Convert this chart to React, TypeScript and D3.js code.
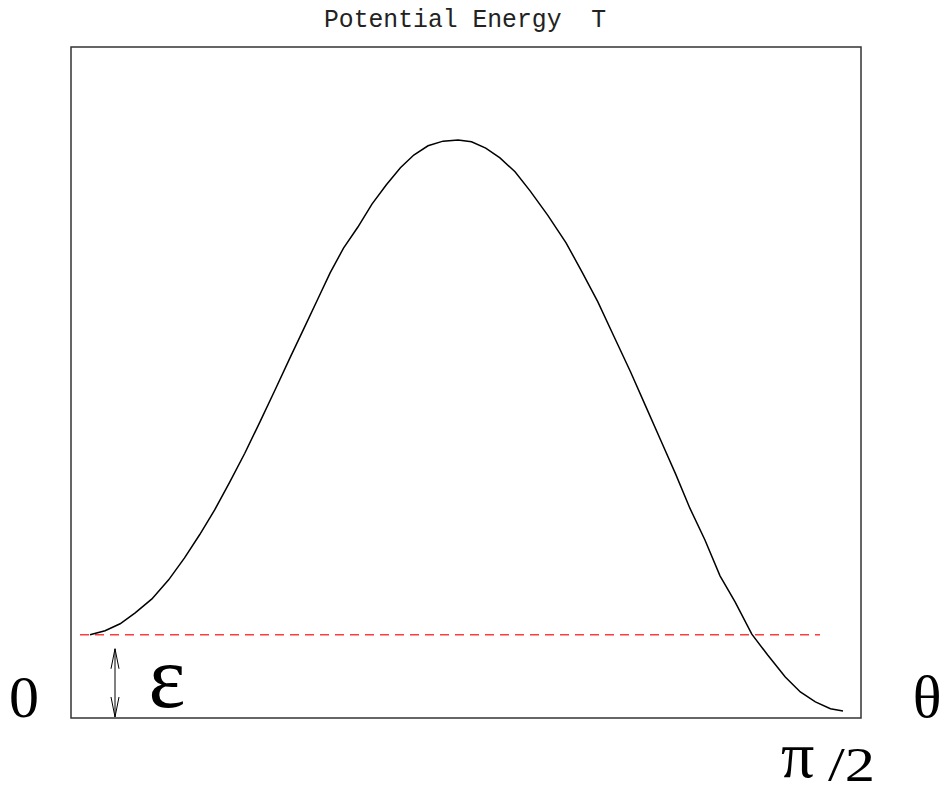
import React, { useEffect, useRef } from 'react';
import * as d3 from 'd3';

// theta in degrees (0 .. 90 = pi/2), potential V normalised to the peak
const thetaDeg = [
  0, 1.8, 3.6, 5.4, 7.4, 9.4, 11.3, 13.1, 14.9, 16.7, 18.5, 20.3, 22.1, 23.9, 25.7,
  27.3, 28.7, 30.3, 32.0, 33.7, 35.4, 37.1, 38.7, 40.4, 42.2, 44.0, 45.6, 47.3, 49.0,
  50.8, 52.6, 54.7, 56.9, 58.8, 60.7, 62.6, 64.6, 66.4, 68.2, 70.0, 71.7, 73.5, 75.3,
  77.1, 79.1, 81.0, 83.1, 84.9, 86.7, 88.5, 90,
];
const potential = [
  0.144, 0.151, 0.163, 0.182, 0.206, 0.239, 0.277, 0.317, 0.36, 0.408, 0.458, 0.512, 0.567,
  0.623, 0.678, 0.727, 0.77, 0.813, 0.849, 0.889, 0.922, 0.952, 0.974, 0.99, 0.998, 1.0,
  0.997, 0.986, 0.969, 0.945, 0.912, 0.87, 0.822, 0.772, 0.72, 0.661, 0.599, 0.54, 0.481,
  0.422, 0.363, 0.308, 0.246, 0.201, 0.145, 0.109, 0.071, 0.045, 0.028, 0.016, 0.012,
];
const epsilon = 0.144;
const titleText = 'Potential Energy  T';

const App = () => {
  const svgRef = useRef<SVGSVGElement>(null);

  useEffect(() => {
    const width = 948;
    const height = 792;
    const svg = d3.select(svgRef.current).attr('width', width).attr('height', height);
    svg.selectAll('*').remove();

    // frame
    const box = { left: 71, right: 861, top: 47, bottom: 718 };

    const x = d3.scaleLinear().domain([0, 90]).range([90, 843]);
    const y = d3.scaleLinear().domain([0, 1]).range([box.bottom, 140]);

    svg.append('rect')
      .attr('x', box.left)
      .attr('y', box.top)
      .attr('width', box.right - box.left)
      .attr('height', box.bottom - box.top)
      .attr('fill', 'none')
      .attr('stroke', '#333')
      .attr('stroke-width', 1.5);

    // title
    svg.append('text')
      .attr('x', 324)
      .attr('y', 27)
      .attr('font-family', '"Liberation Mono", "Courier New", monospace')
      .attr('font-size', 25)
      .attr('textLength', 282)
      .attr('lengthAdjust', 'spacingAndGlyphs')
      .attr('fill', '#222')
      .style('white-space', 'pre')
      .text(titleText);

    // epsilon level
    svg.append('line')
      .attr('x1', 80)
      .attr('x2', 820)
      .attr('y1', y(epsilon))
      .attr('y2', y(epsilon))
      .attr('stroke', '#ff3b3b')
      .attr('stroke-width', 1.3)
      .attr('stroke-dasharray', '9,6');

    // potential curve
    const data = thetaDeg.map((t, i) => ({ t, v: potential[i] }));
    const line = d3.line<{ t: number; v: number }>()
      .x(d => x(d.t))
      .y(d => y(d.v))
      .curve(d3.curveLinear);
    svg.append('path')
      .datum(data)
      .attr('d', line)
      .attr('fill', 'none')
      .attr('stroke', '#000')
      .attr('stroke-width', 1.5);

    // double arrow for epsilon
    const ax = 115;
    const ay1 = y(epsilon) + 14;
    const ay2 = box.bottom - 1;
    const arrow = svg.append('g').attr('stroke', '#000').attr('stroke-width', 1).attr('fill', 'none');
    arrow.append('line').attr('x1', ax).attr('x2', ax).attr('y1', ay1).attr('y2', ay2);
    arrow.append('path').attr('d', `M${ax - 4},${ay1 + 20}L${ax},${ay1}L${ax + 4},${ay1 + 20}`);
    arrow.append('path').attr('d', `M${ax - 4},${ay2 - 20}L${ax},${ay2}L${ax + 4},${ay2 - 20}`);

    const serif = '"Liberation Serif", "Times New Roman", serif';
    svg.append('text').attr('x', 24).attr('y', 717).attr('text-anchor', 'middle')
      .attr('font-family', serif).attr('font-size', 60).text('0');
    svg.append('text').attr('x', 927).attr('y', 717).attr('text-anchor', 'middle')
      .attr('font-family', serif).attr('font-size', 60).text('θ');
    svg.append('text').attr('x', 167).attr('y', 707).attr('text-anchor', 'middle')
      .attr('font-family', serif).attr('font-size', 88).text('ε');
    svg.append('text').attr('x', 781).attr('y', 777)
      .attr('font-family', serif).attr('font-size', 66).text('π');
    svg.append('text')
      .attr('x', 828).attr('y', 781)
      .attr('textLength', 47).attr('lengthAdjust', 'spacingAndGlyphs')
      .attr('font-family', serif).attr('font-size', 48).text('/2');
  }, []);

  return (
    <div style={{ position: 'absolute', left: 0, top: 0 }}>
      <svg ref={svgRef}></svg>
    </div>
  );
};

export default App;
